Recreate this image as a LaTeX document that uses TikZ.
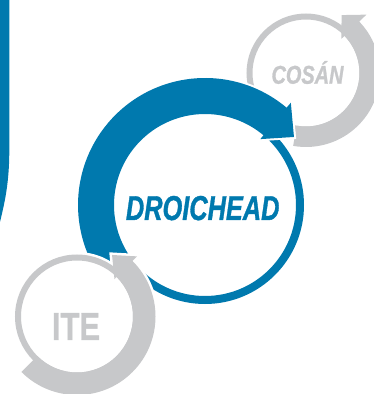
\documentclass[tikz,border=0pt]{standalone}
\usepackage{fontspec}
\setmainfont{Liberation Sans}
\newfontfamily\heavyfont[FakeBold=1.2]{Liberation Sans}
\definecolor{dblue}{RGB}{0,121,174}
\definecolor{lgrey}{RGB}{199,200,202}
\newcommand\bluearrowpath{(220:91) arc[start angle=220,end angle=50,radius=91] -- (50:86) -- (37.4:112) -- (50:133.5) -- (50:127) arc[start angle=50,end angle=220,radius=127] -- cycle}
\newcommand\itebandpath{(-135:56) arc[start angle=-135,end angle=45,radius=56] -- (45:53) -- (60.35:70.8) -- (45:85) -- (45:78.5) arc[start angle=45,end angle=-135,radius=78.5] -- cycle}
\newcommand\cosanbandpath{(-100:53.5) arc[start angle=-100,end angle=44,radius=53.5] -- (44:49) -- (58.4:68) -- (44:84) -- (44:74) arc[start angle=44,end angle=-100,radius=74] -- cycle}
\begin{document}
\begin{tikzpicture}[x=1pt,y=1pt,
  halo/.style={draw=white,fill=white},
  lbl/.style={inner sep=0pt,anchor=base}]
\useasboundingbox (0,0) rectangle (374,394);
% left bar
\fill[dblue] (0,394) -- (9.3,394) -- (9.3,244) .. controls (9.3,209) and (4,189) .. (0,172) -- cycle;
% COSAN
\coordinate (cc) at (306,321);
\begin{scope}[shift={(cc)}]
  \draw[lgrey,line width=6] (0,0) circle[radius=56.5];
  \fill[lgrey] \cosanbandpath;
\end{scope}
\node[lbl,text=lgrey,font=\fontsize{25.7}{26}\heavyfont\bfseries\itshape] (cosan) at (307.5,310.3) {\scalebox{0.776}[1]{COSÁN}};
% DROICHEAD
\coordinate (dc) at (205,189);
\begin{scope}[shift={(dc)}]
  \draw[dblue,line width=8] (0,0) circle[radius=95];
  \path[halo,line width=4] \bluearrowpath;
  \fill[dblue] \bluearrowpath;
\end{scope}
\node[lbl,text=dblue,font=\fontsize{34.5}{35}\heavyfont\bfseries\itshape] (droichead) at (202.7,174) {\scalebox{0.735}[1]{DROICHEAD}};
% ITE
\coordinate (ic) at (77,77.5);
\begin{scope}[shift={(ic)}]
  \fill[white] (0,0) circle[radius=64.5];
  \path[halo,line width=5] \itebandpath;
  \draw[lgrey,line width=6] (0,0) circle[radius=59];
  \fill[lgrey] \itebandpath;
\end{scope}
\node[lbl,text=lgrey,font=\fontsize{39.1}{40}\heavyfont\bfseries] (ite) at (76,54) {\scalebox{0.79}[1]{ITE}};
\end{tikzpicture}
\end{document}
